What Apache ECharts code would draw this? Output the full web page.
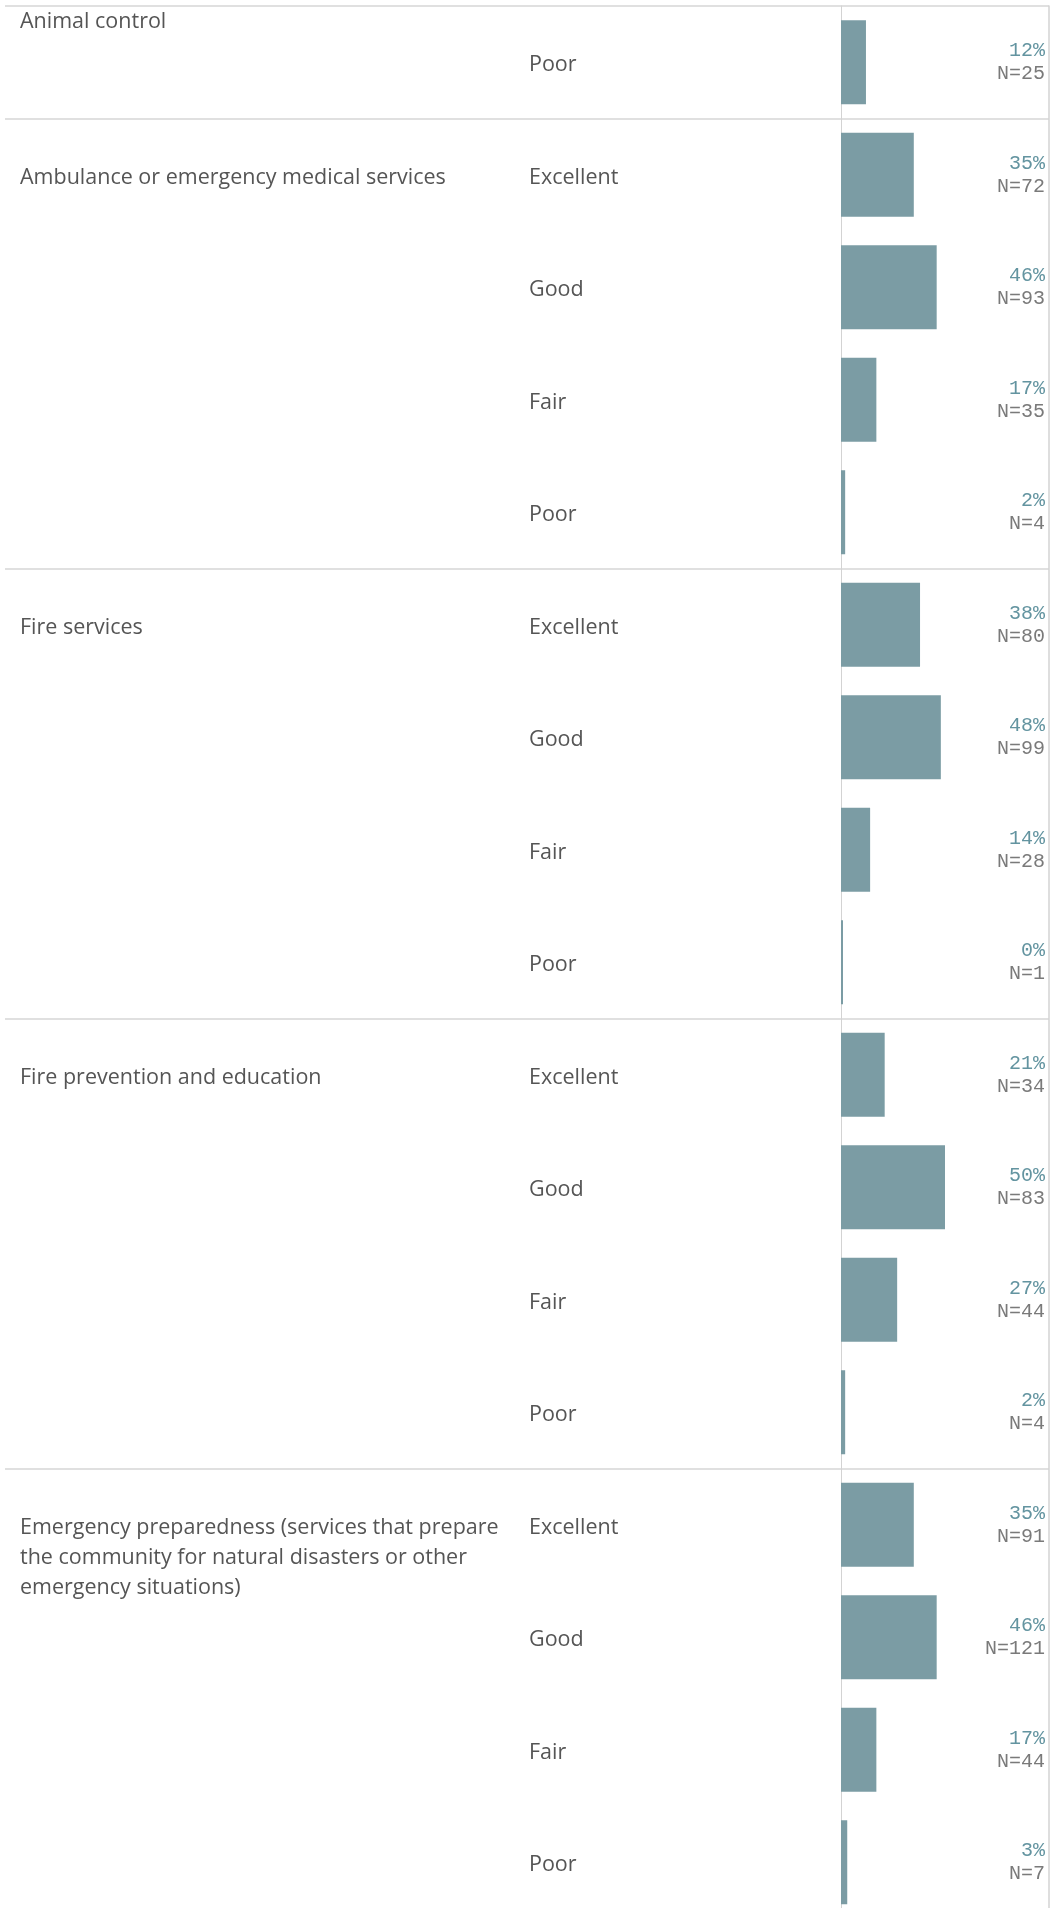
<!DOCTYPE html>
<html>
<head>
<meta charset="utf-8">
<script src="https://cdn.jsdelivr.net/npm/echarts@6/dist/echarts.min.js"></script>
<style>
  html, body { margin: 0; padding: 0; background: #fff; overflow: hidden; }
  #chart { width: 1057px; height: 1920px; }
</style>
</head>
<body>
<div id="chart"></div>
<script>
// services (the first one is cut off at the top, only its last row shows)
var groups = [
    'Animal control',
    'Ambulance or emergency medical services',
    'Fire services',
    'Fire prevention and education',
    'Emergency preparedness (services that prepare the community for natural disasters or other emergency situations)'
];
var rowGroup = [0, 1, 1, 1, 1, 2, 2, 2, 2, 3, 3, 3, 3, 4, 4, 4, 4];
var ratings = ['Poor',
    'Excellent', 'Good', 'Fair', 'Poor',
    'Excellent', 'Good', 'Fair', 'Poor',
    'Excellent', 'Good', 'Fair', 'Poor',
    'Excellent', 'Good', 'Fair', 'Poor'];
var pct = [12, 35, 46, 17, 2, 38, 48, 14, 0, 21, 50, 27, 2, 35, 46, 17, 3];
var counts = [25, 72, 93, 35, 4, 80, 99, 28, 1, 34, 83, 44, 4, 91, 121, 44, 7];

// layout (pixels)
var gridLeft = 5, gridRight = 8, gridTop = 6, rowH = 112.5;
var zeroX = 841, fullX = 1049;
var pxPerUnit = (fullX - zeroX) / 100;
var xMin = -(zeroX - gridLeft) / pxPerUnit;

var textFont = '"Open Sans", "Noto Sans", sans-serif';
var monoFont = '"Liberation Mono", "Courier New", monospace';
var textSize = 21.5, lineH = 30;

// simple word wrap so the long service name breaks like the original
var ctx = document.createElement('canvas').getContext('2d');
ctx.font = textSize + 'px "Open Sans"';
function wrap(text, maxW) {
    var words = text.split(' '), lines = [], cur = '';
    for (var i = 0; i < words.length; i++) {
        var test = cur ? cur + ' ' + words[i] : words[i];
        if (ctx.measureText(test).width > maxW && cur) {
            lines.push(cur);
            cur = words[i];
        } else {
            cur = test;
        }
    }
    if (cur) lines.push(cur);
    return lines;
}

var firstRow = {};
rowGroup.forEach(function (g, i) { if (firstRow[g] === undefined) firstRow[g] = i; });
var sectionStarts = Object.keys(firstRow).map(function (k) { return firstRow[k]; });

// label text per row, first line kept on the row centre
var nameRich = {
    up: { color: '#555', fontFamily: textFont, fontSize: textSize, lineHeight: lineH, padding: [0, 0, 80, 0] }
};
var nameLabels = rowGroup.map(function (g, i) {
    if (firstRow[g] !== i) return '';
    if (i === 0) return '{up|' + groups[g] + '}';
    var lines = wrap(groups[g], 500);
    var key = 'l' + lines.length;
    nameRich[key] = {
        color: '#555', fontFamily: textFont, fontSize: textSize, lineHeight: lineH,
        padding: [(lines.length - 1) * lineH + 6, 0, 0, 0]
    };
    return '{' + key + '|' + lines.join('\n') + '}';
});

var myChart = echarts.init(document.getElementById('chart'));

var option = {
    animation: false,
    grid: {
        left: gridLeft,
        right: gridRight,
        top: gridTop,
        height: rowH * ratings.length,
        containLabel: false,
        outerBoundsMode: 'none'
    },
    xAxis: {
        type: 'value',
        min: xMin,
        max: 100,
        show: false
    },
    yAxis: [{
        // rating labels + the zero line of the bars
        type: 'category',
        data: ratings,
        inverse: true,
        position: 'left',
        offset: -(zeroX - gridLeft),
        axisLine: { show: true, onZero: false, lineStyle: { color: '#d3d3d3', width: 1 } },
        axisTick: { show: false },
        axisLabel: {
            interval: 0,
            align: 'left',
            margin: zeroX - 529,
            formatter: function (v) { return '{r|' + v + '}'; },
            rich: {
                r: { color: '#555', fontFamily: textFont, fontSize: textSize, lineHeight: lineH, padding: [6, 0, 0, 0] }
            }
        },
        splitLine: {
            show: true,
            interval: function (index) { return sectionStarts.indexOf(index) >= 0; },
            lineStyle: { color: '#d6d6d6', width: 1.5 }
        }
    }, {
        // service names
        type: 'category',
        data: ratings.map(function (r, i) { return 'row' + i; }),
        inverse: true,
        position: 'left',
        offset: -15,
        axisLine: { show: false, onZero: false },
        axisTick: { show: false },
        axisLabel: {
            interval: 0,
            align: 'left',
            margin: 0,
            formatter: function (value, index) { return nameLabels[index]; },
            rich: nameRich
        }
    }, {
        // right border
        type: 'category',
        data: ratings.map(function (r, i) { return 'b' + i; }),
        inverse: true,
        position: 'right',
        axisLine: { show: true, onZero: false, lineStyle: { color: '#d3d3d3', width: 1.5 } },
        axisTick: { show: false },
        axisLabel: { show: false }
    }],
    series: [{
        type: 'bar',
        yAxisIndex: 0,
        data: pct,
        barWidth: 84,
        barMinHeight: 2,
        barGap: '-100%',
        itemStyle: { color: '#7b9ca4' },
        silent: true
    }, {
        // invisible full-width bars carrying the right-hand value labels
        type: 'bar',
        yAxisIndex: 0,
        data: pct.map(function () { return 100; }),
        barWidth: 84,
        barGap: '-100%',
        itemStyle: { color: 'rgba(0,0,0,0)' },
        silent: true,
        label: {
            show: true,
            position: 'insideRight',
            distance: 4,
            formatter: function (p) {
                return '{p|' + pct[p.dataIndex] + '%}\n{n|N=' + counts[p.dataIndex] + '}';
            },
            rich: {
                p: { fontFamily: monoFont, fontSize: 20, color: '#6394a0', lineHeight: 23, align: 'right' },
                n: { fontFamily: monoFont, fontSize: 20, color: '#7a7a7a', lineHeight: 23, align: 'right' }
            }
        }
    }]
};

myChart.setOption(option);
</script>
</body>
</html>
